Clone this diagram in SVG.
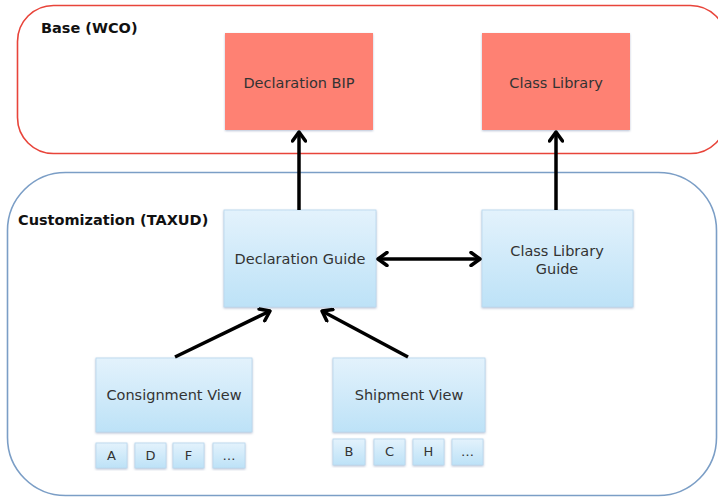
<svg xmlns="http://www.w3.org/2000/svg" width="718" height="497" viewBox="0 0 718 497">
<defs>
<linearGradient id="bg" x1="0" y1="0" x2="0" y2="1">
<stop offset="0" stop-color="#e3f2fc"/>
<stop offset="1" stop-color="#bde2f7"/>
</linearGradient>
<marker id="ah" markerWidth="14" markerHeight="16" viewBox="0 0 14 16" refX="12" refY="8" orient="auto-start-reverse" markerUnits="userSpaceOnUse">
<polyline points="3,1.5 12,8 3,14.5" fill="none" stroke="#000" stroke-width="3.5" stroke-linecap="round" stroke-linejoin="round"/>
</marker>
<filter id="sh" x="-10%" y="-10%" width="120%" height="120%">
<feDropShadow dx="0" dy="1" stdDeviation="0.8" flood-color="#8898b8" flood-opacity="0.6"/>
</filter>
</defs>
<style>
.t{font-family:"DejaVu Sans",Verdana,sans-serif;font-size:14.5px;fill:#333;text-anchor:middle}
.s{font-family:"DejaVu Sans",Verdana,sans-serif;font-size:13px;fill:#333;text-anchor:middle}
.h{font-family:"DejaVu Sans",Verdana,sans-serif;font-size:14.5px;font-weight:bold;fill:#111}
.red{fill:#fe8173;filter:url(#sh)}
.blue{fill:url(#bg);stroke:#b8d8ee;stroke-width:0.8;filter:url(#sh)}
.c{stroke:#000;stroke-width:3.5;fill:none;marker-end:url(#ah)}
</style>
<rect width="718" height="497" fill="#fff"/>
<g id="base">
<rect x="17.5" y="5.5" width="709" height="148" rx="36" fill="none" stroke="#e8443a" stroke-width="1.6"/>
<text class="h" x="41" y="33">Base (WCO)</text>
</g>
<g id="customization">
<rect x="7.5" y="172.5" width="709" height="323" rx="58" fill="none" stroke="#7b9ec6" stroke-width="1.6"/>
<text class="h" x="18" y="225">Customization (TAXUD)</text>
</g>
<g id="declaration-bip">
<rect class="red" x="225" y="33" width="148" height="97"/>
<text class="t" x="299" y="88">Declaration BIP</text>
</g>
<g id="class-library">
<rect class="red" x="482" y="33" width="148" height="97"/>
<text class="t" x="556" y="88">Class Library</text>
</g>
<g id="declaration-guide">
<rect class="blue" x="224" y="210" width="152" height="97"/>
<text class="t" x="300" y="264">Declaration Guide</text>
</g>
<g id="class-library-guide">
<rect class="blue" x="482" y="210" width="151" height="97"/>
<text class="t" x="557" y="256">Class Library</text>
<text class="t" x="557" y="274">Guide</text>
</g>
<g id="consignment-view">
<rect class="blue" x="96" y="358" width="156" height="74"/>
<text class="t" x="174" y="400">Consignment View</text>
</g>
<g id="shipment-view">
<rect class="blue" x="333" y="358" width="152" height="74"/>
<text class="t" x="409" y="400">Shipment View</text>
</g>
<g id="item-a"><rect class="blue" x="96" y="443" width="31" height="25"/><text class="s" x="111.5" y="460">A</text></g>
<g id="item-d"><rect class="blue" x="135" y="443" width="31" height="25"/><text class="s" x="150.5" y="460">D</text></g>
<g id="item-f"><rect class="blue" x="173" y="443" width="31" height="25"/><text class="s" x="188.5" y="460">F</text></g>
<g id="item-more1"><rect class="blue" x="213" y="443" width="32" height="25"/><text class="s" x="229" y="460">…</text></g>
<g id="item-b"><rect class="blue" x="333" y="439" width="32" height="26"/><text class="s" x="349" y="456">B</text></g>
<g id="item-c"><rect class="blue" x="374" y="439" width="31" height="26"/><text class="s" x="389.5" y="456">C</text></g>
<g id="item-h"><rect class="blue" x="413" y="439" width="31" height="26"/><text class="s" x="428.5" y="456">H</text></g>
<g id="item-more2"><rect class="blue" x="452" y="439" width="31" height="26"/><text class="s" x="467.5" y="456">…</text></g>
<g id="connectors">
<line class="c" x1="299" y1="210" x2="299" y2="132"/>
<line class="c" x1="556" y1="210" x2="556" y2="132"/>
<line class="c" x1="378" y1="259" x2="480" y2="259" marker-start="url(#ah)"/>
<line class="c" x1="175" y1="357" x2="270" y2="311"/>
<line class="c" x1="408" y1="357" x2="322" y2="311"/>
</g>
</svg>
